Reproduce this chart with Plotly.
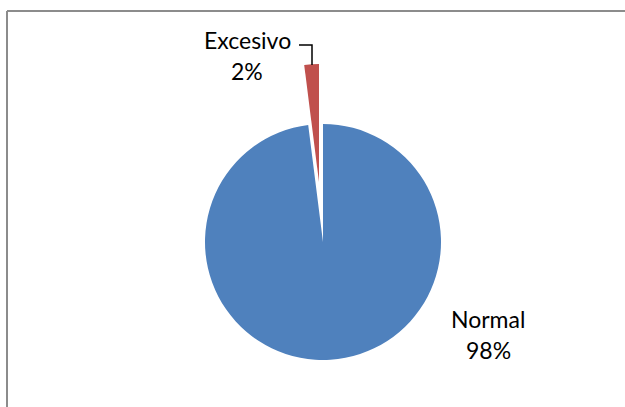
import plotly.graph_objects as go

categories = ["Normal", "Excesivo"]
values = [98, 2]
colors = ["#4F81BD", "#C0504D"]

W, H = 625, 407
def px(x): return x / W
def py(y): return 1 - y / H

fig = go.Figure()
# main (blue) pie, red slot transparent
fig.add_trace(go.Pie(
    labels=categories, values=values, sort=False, direction="clockwise", rotation=0,
    marker=dict(colors=[colors[0], "rgba(0,0,0,0)"], line=dict(width=0)),
    textinfo="none", hoverinfo="label+percent", showlegend=False,
    domain=dict(x=[px(205), px(441)], y=[py(360), py(124)]),
))
# exploded (red) slice
fig.add_trace(go.Pie(
    labels=categories, values=values, sort=False, direction="clockwise", rotation=0,
    marker=dict(colors=["rgba(0,0,0,0)", colors[1]], line=dict(width=0)),
    textinfo="none", hoverinfo="label+percent", showlegend=False,
    domain=dict(x=[px(201), px(437)], y=[py(300), py(64)]),
))

total = sum(values)
pcts = [round(v / total * 100) for v in values]
label_pos = {"Normal": ((488, 319), (488, 350)), "Excesivo": ((247, 40), (247, 71))}
annotations = []
for cat, p in zip(categories, pcts):
    (x1, y1), (x2, y2) = label_pos[cat]
    annotations.append(dict(x=px(x1), y=py(y1), xref="paper", yref="paper", text=cat,
                            showarrow=False, xanchor="center", yanchor="middle",
                            font=dict(family="Lato", size=23, color="#000000")))
    annotations.append(dict(x=px(x2), y=py(y2), xref="paper", yref="paper", text=f"{p}%",
                            showarrow=False, xanchor="center", yanchor="middle",
                            font=dict(family="Lato", size=23, color="#000000")))

shapes = [
    dict(type="line", xref="paper", yref="paper", x0=px(7), x1=1.1, y0=py(11), y1=py(11),
         line=dict(color="#8c8c8c", width=2), layer="below"),
    dict(type="line", xref="paper", yref="paper", x0=px(7), x1=px(7), y0=-0.1, y1=py(11),
         line=dict(color="#8c8c8c", width=2), layer="below"),
    dict(type="path", xref="paper", yref="paper",
         path=f"M {px(299)},{py(45)} L {px(312)},{py(45)} L {px(312)},{py(65)}",
         line=dict(color="#000000", width=1.5)),
]

fig.update_layout(
    width=W, height=H, margin=dict(l=0, r=0, t=0, b=0),
    paper_bgcolor="white", plot_bgcolor="white",
    annotations=annotations, shapes=shapes,
)
fig.write_html(
    "out.html",
    config={"displayModeBar": False},
    post_script="document.documentElement.style.overflow='hidden';"
                "document.body.style.overflow='hidden';document.body.style.margin='0';",
)
